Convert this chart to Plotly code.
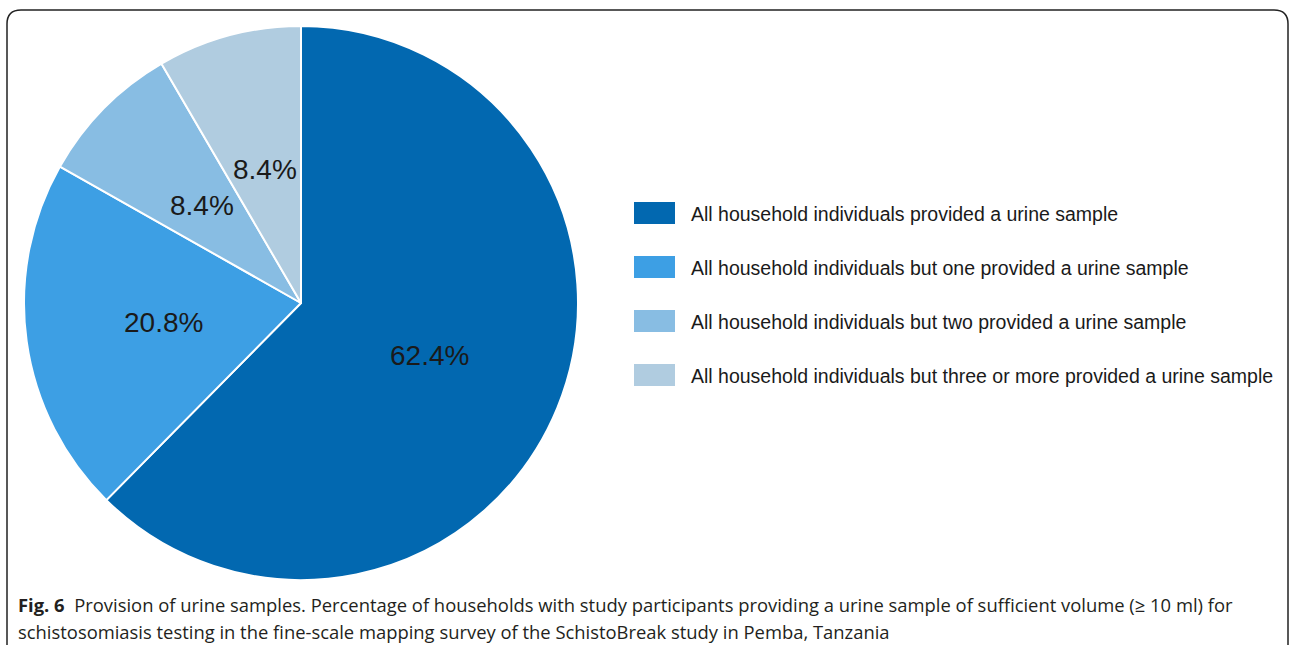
import math
import plotly.graph_objects as go

categories = [
    "All household individuals provided a urine sample",
    "All household individuals but one provided a urine sample",
    "All household individuals but two provided a urine sample",
    "All household individuals but three or more provided a urine sample",
]
values = [62.4, 20.8, 8.4, 8.4]
colors = ["#0268B0", "#3D9FE4", "#88BDE3", "#B0CCE0"]

W, H = 1290, 645
cx, cy, r = 301, 303, 277

fig = go.Figure()
fig.add_trace(go.Pie(
    labels=categories,
    values=values,
    sort=False,
    direction="clockwise",
    rotation=0,
    marker=dict(colors=colors, line=dict(color="white", width=2)),
    textinfo="none",
    showlegend=False,
    hoverinfo="label+percent",
    domain=dict(x=[(cx - r) / W, (cx + r) / W], y=[1 - (cy + r) / H, 1 - (cy - r) / H]),
))

shapes = []
annotations = []

# percentage labels placed along each slice's mid-angle
total = sum(values)
cum = 0.0
for v in values:
    mid = (cum + v / 2) / total * 2 * math.pi
    cum += v
    rad = 0.5 * r
    lx = cx + rad * math.sin(mid)
    ly = cy - rad * math.cos(mid)
    annotations.append(dict(text=f"{v:.1f}%", xref="paper", yref="paper",
                            x=lx / W, y=1 - ly / H, xanchor="center", yanchor="middle",
                            showarrow=False,
                            font=dict(family="Liberation Sans, Arial, sans-serif", size=28, color="#1a1a1a")))

# custom legend
leg_x0, leg_y0, leg_dy = 634, 213, 54
for i, (cat, col) in enumerate(zip(categories, colors)):
    yc = leg_y0 + i * leg_dy
    shapes.append(dict(type="rect", xref="paper", yref="paper",
                       x0=leg_x0 / W, x1=(leg_x0 + 41) / W,
                       y0=1 - (yc + 11) / H, y1=1 - (yc - 11) / H,
                       fillcolor=col, line=dict(width=0)))
    annotations.append(dict(text=cat, xref="paper", yref="paper",
                            x=689 / W, y=1 - (yc + 1) / H, xanchor="left", yanchor="middle",
                            showarrow=False,
                            font=dict(family="Liberation Sans, Arial, sans-serif", size=19.5, color="#1a1a1a")))

# rounded frame
def px(x):
    return x / W
def py(y):
    return 1 - y / H
x0, x1, y0, y1, rr = 7, 1288, 10, 660, 14
path = (f"M {px(x0)},{py(y0+rr)} Q {px(x0)},{py(y0)} {px(x0+rr)},{py(y0)} "
        f"L {px(x1-rr)},{py(y0)} Q {px(x1)},{py(y0)} {px(x1)},{py(y0+rr)} "
        f"L {px(x1)},{py(y1)} M {px(x0)},{py(y0+rr)} L {px(x0)},{py(y1)}")
shapes.append(dict(type="path", path=path, xref="paper", yref="paper",
                   line=dict(color="#222222", width=1.5)))

caption1 = ("<b>Fig. 6</b>  Provision of urine samples. Percentage of households with study participants "
            "providing a urine sample of sufficient volume (≥ 10 ml) for")
caption2 = ("schistosomiasis testing in the fine-scale mapping survey of the SchistoBreak study in Pemba, Tanzania")
for txt, yy in [(caption1, 604), (caption2, 631)]:
    annotations.append(dict(text=txt, xref="paper", yref="paper", x=16 / W, y=1 - yy / H,
                            xanchor="left", yanchor="middle", showarrow=False,
                            font=dict(family="Open Sans, sans-serif", size=18.4, color="#231f20")))

fig.update_layout(
    width=W, height=H,
    margin=dict(l=0, r=0, t=0, b=0),
    paper_bgcolor="white",
    plot_bgcolor="white",
    shapes=shapes,
    annotations=annotations,
)

fig.write_html("out.html", config={"displayModeBar": False},
               post_script="document.body.style.margin='0px';")
